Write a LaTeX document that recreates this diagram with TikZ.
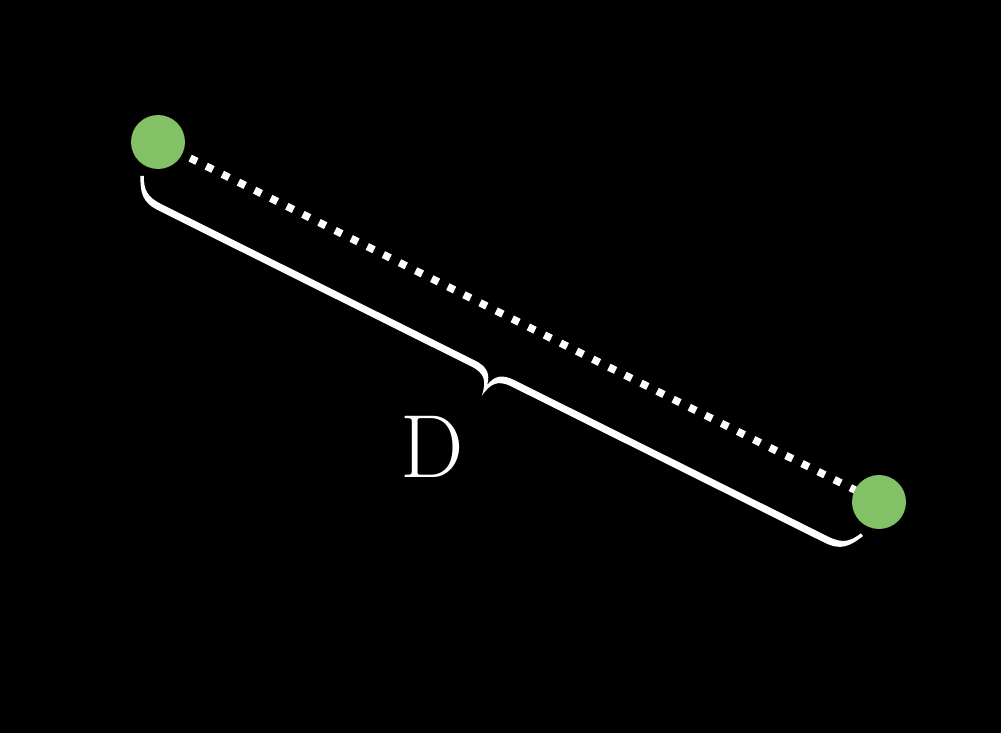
\documentclass[tikz,border=0pt]{standalone}
\usetikzlibrary{positioning}
\definecolor{dotgreen}{HTML}{83C167}
\begin{document}
\begin{tikzpicture}[x=0.02cm, y=-0.02cm,
    greendot/.style={circle, fill=dotgreen, minimum size=1.08cm, inner sep=0pt}]
    \fill[black] (0,0) rectangle (1001,733);
    \coordinate (a) at (158,142);
    \coordinate (b) at (879,502);
    \coordinate (braceL) at (142,176);
    \draw [white, line width=0.15cm, dash pattern=on 0.15cm off 0.21cm] (a) -- (b);
    \node[greendot] (dotA) at (a) {};
    \node[greendot] (dotB) at (b) {};
    % brace, drawn along the line a--b
    \begin{scope}[shift={(braceL)}, x={(0.017894cm,-0.008934cm)}, y={(-0.008934cm,-0.017894cm)}]
        \fill [white] (-1.5,0.5) .. controls (6,16) and (12,23.5) .. (30,23.5)
            -- (380,23.5) .. controls (395,23.5) and (400,30) .. (402.25,45)
            .. controls (404.5,30) and (409.5,23.5) .. (424.5,23.5)
            -- (774.5,23.5) .. controls (792.5,23.5) and (798.5,16) .. (806,0.5)
            -- (803,-1) .. controls (796.5,12) and (790.5,16.5) .. (774.5,16.5)
            -- (424.5,16.5) .. controls (410,16.5) and (404.5,22) .. (402.25,33)
            .. controls (400,22) and (394.5,16.5) .. (380,16.5)
            -- (30,16.5) .. controls (14,16.5) and (8,12) .. (1.5,-1) -- cycle;
    \end{scope}
    \node[white, anchor=base, inner sep=0pt, font=\fontsize{51}{60}\selectfont] (lab) at (432.5,477) {D};
\end{tikzpicture}
\end{document}
